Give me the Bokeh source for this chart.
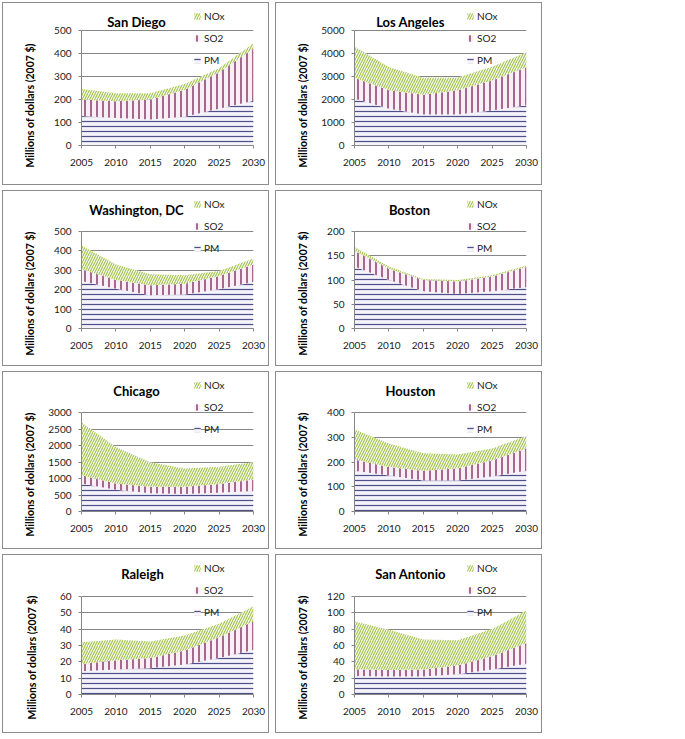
import math
from bokeh.plotting import figure
from bokeh.models import Range1d, FixedTicker, Label, Legend, LegendItem, ColumnDataSource, Title
from bokeh.layouts import column, row
from bokeh.embed import file_html
from bokeh.resources import INLINE

# ---------------- data ----------------
years = [2005, 2010, 2015, 2020, 2025, 2030]
cities = ["San Diego", "Los Angeles", "Washington, DC", "Boston",
          "Chicago", "Houston", "Raleigh", "San Antonio"]
series_names = ["PM", "SO2", "NOx"]

sd_pm = [128, 120, 113, 125, 160, 195]
sd_so2 = [72, 72, 87, 117, 158, 227]
sd_nox = [46, 35, 27, 25, 18, 23]

la_pm = [2040, 1600, 1350, 1350, 1520, 1750]
la_so2 = [910, 800, 860, 1050, 1310, 1650]
la_nox = [1350, 1010, 740, 560, 590, 650]

dc_pm = [245, 205, 172, 175, 202, 240]
dc_so2 = [60, 45, 51, 56, 68, 90]
dc_nox = [123, 80, 57, 43, 26, 31]

bos_pm = [128, 100, 77, 71, 77, 85]
bos_so2 = [32, 23, 23, 26, 30, 42]
bos_nox = [8, 5, 2, 3, 3, 3]

chi_pm = [845, 660, 550, 530, 570, 620]
chi_so2 = [255, 185, 203, 220, 264, 346]
chi_nox = [1600, 1108, 742, 552, 519, 529]

hou_pm = [165, 145, 125, 125, 141, 165]
hou_so2 = [45, 35, 40, 50, 65, 90]
hou_nox = [121, 95, 70, 55, 49, 50]

ral_pm = [14.3, 15.3, 16.1, 18.4, 22.4, 27.3]
ral_so2 = [4.3, 5.7, 6.3, 8.5, 12.7, 17.6]
ral_nox = [13.4, 12.7, 10.0, 9.2, 8.2, 9.1]

sa_pm = [22.8, 22.0, 22.0, 24.8, 30.5, 37.8]
sa_so2 = [8.1, 8.0, 8.5, 10.6, 16.3, 25.2]
sa_nox = [58.6, 49.3, 37.0, 30.9, 33.3, 39.9]

pm_values = [sd_pm, la_pm, dc_pm, bos_pm, chi_pm, hou_pm, ral_pm, sa_pm]
so2_values = [sd_so2, la_so2, dc_so2, bos_so2, chi_so2, hou_so2, ral_so2, sa_so2]
nox_values = [sd_nox, la_nox, dc_nox, bos_nox, chi_nox, hou_nox, ral_nox, sa_nox]

y_max = [500, 5000, 500, 200, 3000, 400, 60, 120]
y_step = [100, 1000, 100, 50, 500, 100, 10, 20]
x_ticks = [2005, 2010, 2015, 2020, 2025, 2030]
y_label = "Millions of dollars (2007 $)"

# ---------------- style ----------------
FONT = "Lato"
GREY = "#868686"
TXT = "#1a1a1a"
PM_COL = "#4f4f8a"
SO2_COL = "#8a3a70"
NOX_COL = "#a2c34e"
PM_BG = "#f3f3f9"
SO2_BG = "#f9eff5"
NOX_BG = "#f8fbee"

PANEL_W = 267
ROW_H = [183, 176, 178, 179]
ROW_TOP = [27, 40, 40, 41]      # frame (data) top below panel top
ROW_BOT = [41, 39, 39, 40]      # frame bottom above panel bottom
LEFT_M = 78
RIGHT_M = 17
TITLE_X = [133, 134, 133, 133, 133, 134, 139, 134]
DIGIT_W = 5.8


def make_panel(i, r):
    H = ROW_H[r]
    W = PANEL_W
    bot_m = ROW_BOT[r]
    fh_total = H - bot_m
    fh_data = fh_total - ROW_TOP[r]
    y_end = y_max[i] * fh_total / fh_data
    p = figure(width=W, height=H, output_backend="svg", toolbar_location=None,
               tools="", x_range=Range1d(2005, 2030), y_range=Range1d(0, y_end),
               min_border_left=LEFT_M, min_border_right=RIGHT_M,
               min_border_top=0, min_border_bottom=bot_m)
    p.styles = {"border": "1px solid #8c8c8c", "box-sizing": "border-box"}
    p.outline_line_color = None
    p.background_fill_color = "white"
    p.border_fill_color = "white"

    src = ColumnDataSource(dict(x=years, PM=pm_values[i], SO2=so2_values[i], NOx=nox_values[i]))
    rs = p.varea_stack(stackers=series_names, x="x", source=src,
                       fill_color=[PM_BG, SO2_BG, NOX_BG],
                       hatch_pattern=["-", "|", "/"],
                       hatch_color=[PM_COL, SO2_COL, NOX_COL],
                       hatch_scale=[5, 6, 5],
                       hatch_weight=[1.2, 1.5, 1.1])

    p.xgrid.visible = False
    p.ygrid.grid_line_color = GREY
    p.ygrid.grid_line_width = 1

    p.xaxis.ticker = FixedTicker(ticks=x_ticks)
    p.yaxis.ticker = FixedTicker(ticks=list(range(0, y_max[i] + 1, y_step[i])))
    p.yaxis.bounds = (0, y_max[i])
    for ax in (p.xaxis[0], p.yaxis[0]):
        ax.axis_line_color = GREY
        ax.major_tick_line_color = GREY
        ax.major_tick_out = 3
        ax.major_tick_in = 0
        ax.minor_tick_line_color = None
        ax.major_label_text_font = FONT
        ax.major_label_text_font_size = "10px"
        ax.major_label_text_color = TXT
    p.xaxis.major_label_standoff = 10
    p.yaxis.major_label_standoff = 7

    def sx(px):
        return px - LEFT_M

    def sy(py):
        return fh_total - py

    # city title (inside the extended frame)
    p.add_layout(Label(x=sx(TITLE_X[i]), y=sy(18), x_units="screen", y_units="screen",
                       text=cities[i], text_font=FONT, text_font_style="bold",
                       text_font_size="13px", text_color="black",
                       text_align="center", text_baseline="middle"))

    # vertical axis title as a side title, anchored at its lower end
    n = len(str(y_max[i]))
    w = DIGIT_W * n + (7 if n >= 4 else 0)
    ytitle = Title(text=y_label, align="left", offset=fh_total - 164,
                   text_font=FONT, text_font_style="bold", text_font_size="10.5px",
                   text_color="black", standoff=max(0, 49 - w))
    p.add_layout(ytitle, "left")

    items = [LegendItem(label="NOx", renderers=[rs[2]]),
             LegendItem(label="SO2", renderers=[rs[1]]),
             LegendItem(label="PM", renderers=[rs[0]])]
    leg = Legend(items=items, location=(sx(190), sy(63)), orientation="vertical",
                 glyph_width=8, glyph_height=8, label_height=8, spacing=10,
                 padding=0, margin=0, label_standoff=3,
                 background_fill_alpha=0, border_line_color=None,
                 label_text_font=FONT, label_text_font_size="10px",
                 label_text_color=TXT)
    p.add_layout(leg)
    return p


panels = [make_panel(i, i // 2) for i in range(8)]
rows = [row(panels[2 * k], panels[2 * k + 1], spacing=6) for k in range(4)]
layout = column(*rows, spacing=5)
layout.margin = (2, 0, 0, 2)

open("out.html", "w").write(file_html(layout, INLINE))
